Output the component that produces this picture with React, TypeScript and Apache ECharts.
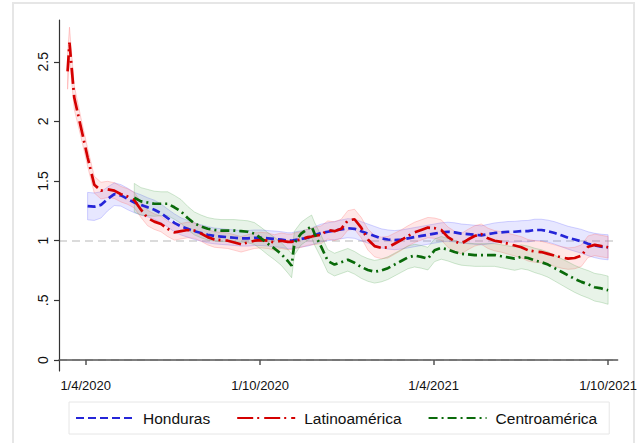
import React, { useEffect, useRef } from "react";
import * as echarts from "echarts";

// ---- dates (weekly samples, plus a few dates at sharp turns) ----
const dates = [
  "2020-03-13", "2020-03-15", "2020-03-20", "2020-03-27", "2020-04-03", "2020-04-10", "2020-04-17", "2020-04-24", "2020-05-01", "2020-05-08",
  "2020-05-15", "2020-05-22", "2020-05-29", "2020-06-05", "2020-06-12", "2020-06-19", "2020-06-26", "2020-07-03", "2020-07-10", "2020-07-17",
  "2020-07-24", "2020-07-31", "2020-08-07", "2020-08-14", "2020-08-21", "2020-08-28", "2020-09-04", "2020-09-11", "2020-09-18", "2020-09-25",
  "2020-10-02", "2020-10-09", "2020-10-16", "2020-10-23", "2020-10-30", "2020-11-03", "2020-11-06", "2020-11-13", "2020-11-20", "2020-11-24",
  "2020-11-27", "2020-12-04", "2020-12-11", "2020-12-18", "2020-12-25", "2021-01-01", "2021-01-08", "2021-01-15", "2021-01-22", "2021-01-29",
  "2021-02-05", "2021-02-12", "2021-02-19", "2021-02-26", "2021-03-05", "2021-03-12", "2021-03-19", "2021-03-26", "2021-04-02", "2021-04-09",
  "2021-04-16", "2021-04-23", "2021-04-30", "2021-05-07", "2021-05-14", "2021-05-21", "2021-05-28", "2021-06-04", "2021-06-11", "2021-06-18",
  "2021-06-25", "2021-07-02", "2021-07-09", "2021-07-16", "2021-07-23", "2021-07-30", "2021-08-06", "2021-08-13", "2021-08-20", "2021-08-27",
  "2021-09-03", "2021-09-10", "2021-09-17", "2021-09-24", "2021-10-01",
];

const honduras = [
  null, null, null, null, 1.29, 1.285, 1.30, 1.35, 1.39, 1.38,
  1.35, 1.32, 1.30, 1.28, 1.26, 1.23, 1.19, 1.15, 1.12, 1.10,
  1.08, 1.065, 1.05, 1.04, 1.035, 1.03, 1.025, 1.02, 1.02, 1.025,
  1.025, 1.02, 1.015, 1.01, 1.0, 1.0, 1.005, 1.015, 1.025, 1.035,
  1.045, 1.065, 1.075, 1.085, 1.095, 1.105, 1.10, 1.08, 1.06, 1.04,
  1.02, 1.01, 1.005, 1.01, 1.02, 1.03, 1.04, 1.05, 1.06, 1.07,
  1.075, 1.07, 1.06, 1.055, 1.05, 1.045, 1.055, 1.065, 1.07, 1.075,
  1.075, 1.08, 1.08, 1.09, 1.09, 1.08, 1.065, 1.045, 1.025, 1.01,
  0.995, 0.975, 0.96, 0.95, 0.945,
];
const hondurasCI = [
  null, null, null, null, 0.115, 0.115, 0.11, 0.1, 0.095, 0.09,
  0.09, 0.085, 0.085, 0.08, 0.08, 0.078, 0.075, 0.075, 0.072, 0.07,
  0.07, 0.068, 0.068, 0.066, 0.066, 0.065, 0.065, 0.065, 0.065, 0.065,
  0.065, 0.065, 0.066, 0.066, 0.067, 0.067, 0.068, 0.068, 0.07, 0.07,
  0.072, 0.074, 0.075, 0.076, 0.078, 0.08, 0.08, 0.08, 0.08, 0.08,
  0.08, 0.08, 0.08, 0.08, 0.08, 0.08, 0.08, 0.08, 0.08, 0.08,
  0.08, 0.08, 0.08, 0.08, 0.08, 0.08, 0.082, 0.084, 0.085, 0.086,
  0.087, 0.088, 0.09, 0.09, 0.09, 0.092, 0.094, 0.095, 0.096, 0.098,
  0.1, 0.1, 0.102, 0.104, 0.105,
];

const latinoamerica = [
  2.42, 2.66, 2.2, 1.95, 1.70, 1.47, 1.42, 1.43, 1.42, 1.39,
  1.37, 1.34, 1.26, 1.19, 1.16, 1.14, 1.10, 1.07, 1.08, 1.09,
  1.085, 1.06, 1.03, 1.01, 1.005, 1.0, 0.985, 0.97, 0.985, 1.0,
  1.005, 1.0, 0.985, 1.0, 0.99, 0.99, 1.0, 1.01, 1.03, 1.035,
  1.04, 1.05, 1.09, 1.08, 1.10, 1.17, 1.18, 1.11, 1.01, 0.955,
  0.94, 0.945, 0.975, 1.005, 1.04, 1.07, 1.09, 1.11, 1.105, 1.09,
  1.03, 0.995, 0.975, 1.01, 1.04, 1.055, 1.02, 1.0, 0.99, 0.975,
  0.96, 0.945, 0.92, 0.91, 0.905, 0.89, 0.875, 0.86, 0.85, 0.855,
  0.875, 0.95, 0.965, 0.955, 0.945,
];
const latinoamericaCI = [
  0.15, 0.13, 0.1, 0.08, 0.075, 0.07, 0.07, 0.068, 0.066, 0.065,
  0.065, 0.065, 0.065, 0.065, 0.065, 0.065, 0.065, 0.065, 0.065, 0.065,
  0.065, 0.065, 0.065, 0.065, 0.065, 0.065, 0.065, 0.065, 0.065, 0.065,
  0.065, 0.065, 0.065, 0.065, 0.065, 0.065, 0.065, 0.066, 0.068, 0.07,
  0.072, 0.074, 0.076, 0.078, 0.08, 0.082, 0.084, 0.086, 0.088, 0.09,
  0.09, 0.09, 0.088, 0.086, 0.085, 0.085, 0.085, 0.085, 0.085, 0.085,
  0.085, 0.085, 0.085, 0.085, 0.085, 0.085, 0.085, 0.085, 0.086, 0.087,
  0.088, 0.089, 0.09, 0.09, 0.09, 0.09, 0.09, 0.09, 0.09, 0.09,
  0.09, 0.09, 0.09, 0.09, 0.09,
];

const centroamerica = [
  null, null, null, null, null, null, null, null, null, null,
  null, 1.36, 1.33, 1.32, 1.31, 1.31, 1.31, 1.28, 1.245, 1.19,
  1.145, 1.12, 1.10, 1.09, 1.085, 1.085, 1.085, 1.08, 1.075, 1.06,
  1.02, 0.975, 0.935, 0.89, 0.83, 0.79, 0.98, 1.06, 1.10, 1.12,
  1.06, 0.95, 0.83, 0.80, 0.82, 0.84, 0.815, 0.78, 0.755, 0.74,
  0.75, 0.77, 0.80, 0.83, 0.86, 0.875, 0.865, 0.85, 0.92, 0.94,
  0.925, 0.905, 0.89, 0.885, 0.88, 0.88, 0.88, 0.88, 0.87, 0.86,
  0.85, 0.865, 0.855, 0.835, 0.82, 0.80, 0.77, 0.74, 0.71, 0.68,
  0.655, 0.635, 0.61, 0.60, 0.585,
];
const centroamericaCI = [
  null, null, null, null, null, null, null, null, null, null,
  null, 0.12, 0.115, 0.11, 0.105, 0.1, 0.1, 0.1, 0.1, 0.098,
  0.096, 0.095, 0.094, 0.093, 0.092, 0.092, 0.092, 0.092, 0.092, 0.092,
  0.092, 0.093, 0.094, 0.095, 0.1, 0.1, 0.1, 0.095, 0.095, 0.095,
  0.095, 0.095, 0.095, 0.095, 0.095, 0.095, 0.095, 0.095, 0.095, 0.095,
  0.095, 0.095, 0.095, 0.095, 0.095, 0.095, 0.095, 0.095, 0.095, 0.095,
  0.095, 0.095, 0.095, 0.095, 0.095, 0.095, 0.095, 0.095, 0.096, 0.097,
  0.098, 0.1, 0.1, 0.102, 0.104, 0.106, 0.108, 0.11, 0.112, 0.113,
  0.114, 0.115, 0.116, 0.117, 0.118,
];

const seriesNames = ["Honduras", "Latinoamérica", "Centroamérica"];
const xTickDates = ["2020-04-01", "2020-10-01", "2021-04-01", "2021-10-01"];
const xTickLabels = ["1/4/2020", "1/10/2020", "1/4/2021", "1/10/2021"];
const yTicks = [0, 0.5, 1, 1.5, 2, 2.5];
const yTickLabels = ["0", ".5", "1", "1.5", "2", "2.5"];
const refLines = [0, 1];
const xRange = ["2020-03-04", "2021-10-11"];
const yRange = [-0.092, 2.85];

const FONT = "'Liberation Sans', Arial, Helvetica, sans-serif";

const ts = (d: string) => {
  const [y, m, dd] = d.split("-").map(Number);
  return Date.UTC(y, m - 1, dd);
};

export default function App() {
  const ref = useRef<HTMLDivElement>(null);

  useEffect(() => {
    if (!ref.current) return;
    const chart = echarts.init(ref.current, undefined, { renderer: "svg" });
    const times = dates.map(ts);
    const xTickTs = xTickDates.map(ts);

    const mkLine = (vals: (number | null)[]) =>
      times.map((t, i) => [t, vals[i]]).filter((p) => p[1] != null);

    const mkBand = (
      name: string,
      vals: (number | null)[],
      ci: (number | null)[],
      fill: string,
      stroke: string
    ) => {
      const first = vals.findIndex((v) => v != null);
      return {
        type: "custom",
        name: name + "_band",
        silent: true,
        z: 1,
        data: [[times[first], vals[first]]],
        renderItem: (params: any, api: any) => {
          const up: number[][] = [];
          const lo: number[][] = [];
          for (let i = 0; i < times.length; i++) {
            const v = vals[i];
            const c = ci[i];
            if (v == null || c == null) continue;
            up.push(api.coord([times[i], v + c]));
            lo.push(api.coord([times[i], v - c]));
          }
          return {
            type: "polygon",
            shape: { points: up.concat(lo.reverse()) },
            style: { fill, stroke, lineWidth: 1 },
          };
        },
      };
    };

    const lineSeries = (name: string, vals: (number | null)[], color: string, dash: number[], extra: any = {}) => ({
      type: "line",
      name,
      data: mkLine(vals),
      showSymbol: false,
      symbol: "none",
      z: 3,
      lineStyle: { color, width: 2.7, type: dash },
      itemStyle: { color },
      ...extra,
    });

    chart.setOption({
      animation: false,
      backgroundColor: "#ffffff",
      textStyle: { fontFamily: FONT },
      grid: { left: 59, right: 18, top: 20, bottom: 72 },
      graphic: [
        {
          type: "rect",
          silent: true,
          z: -10,
          shape: { x: 13, y: 3, width: 621, height: 470 },
          style: { fill: "none", stroke: "#e6e6e6", lineWidth: 2 },
        },
      ],
      xAxis: {
        type: "value",
        min: ts(xRange[0]),
        max: ts(xRange[1]),
        splitLine: { show: false },
        axisLine: { show: true, lineStyle: { color: "#555", width: 1.5 } },
        axisTick: { show: true, customValues: xTickTs, length: 5, lineStyle: { color: "#555", width: 1.5 } },
        axisLabel: {
          customValues: xTickTs,
          formatter: (v: number) => {
            const i = xTickTs.indexOf(v);
            return i >= 0 ? xTickLabels[i] : "";
          },
          fontSize: 13,
          color: "#111",
          margin: 8,
          fontFamily: FONT,
        },
      },
      yAxis: {
        type: "value",
        min: yRange[0],
        max: yRange[1],
        splitLine: { show: false },
        axisLine: { show: true, lineStyle: { color: "#333", width: 1.2 } },
        axisTick: { show: true, customValues: yTicks, length: 5, lineStyle: { color: "#333", width: 1.2 } },
        axisLabel: {
          customValues: yTicks,
          formatter: (v: number) => {
            const i = yTicks.indexOf(v);
            return i >= 0 ? yTickLabels[i] : "";
          },
          rotate: 90,
          fontSize: 14,
          color: "#111",
          margin: 9,
          fontFamily: FONT,
        },
      },
      legend: {
        data: seriesNames,
        left: 69,
        top: 402,
        orient: "horizontal",
        padding: [8, 12, 8, 6],
        itemGap: 26,
        itemWidth: 58,
        itemHeight: 14,
        borderColor: "#e6e6e6",
        borderWidth: 1,
        itemStyle: { opacity: 0, borderWidth: 0 },
        textStyle: { fontSize: 15.5, color: "#111", fontFamily: FONT, padding: [0, 0, 0, 4] },
      },
      series: [
        mkBand("Honduras", honduras, hondurasCI, "rgba(110,110,255,0.17)", "rgba(110,110,255,0.3)"),
        mkBand("Latinoamérica", latinoamerica, latinoamericaCI, "rgba(255,110,110,0.17)", "rgba(255,110,110,0.3)"),
        mkBand("Centroamérica", centroamerica, centroamericaCI, "rgba(90,170,90,0.14)", "rgba(90,170,90,0.28)"),
        lineSeries("Honduras", honduras, "#2525d8", [8, 4], {
          markLine: {
            silent: true,
            symbol: "none",
            label: { show: false },
            lineStyle: { color: "#cfcfcf", type: [8, 5], width: 1.5 },
            data: refLines.map((v) => ({ yAxis: v })),
            z: 0,
          },
        }),
        lineSeries("Latinoamérica", latinoamerica, "#d40000", [16, 4, 2, 5]),
        lineSeries("Centroamérica", centroamerica, "#0a6a0a", [9, 4, 2, 4]),
      ],
    });

    return () => chart.dispose();
  }, []);

  return (
    <div
      ref={ref}
      style={{ position: "fixed", left: 0, top: 0, width: 640, height: 443, background: "#fff" }}
    />
  );
}
